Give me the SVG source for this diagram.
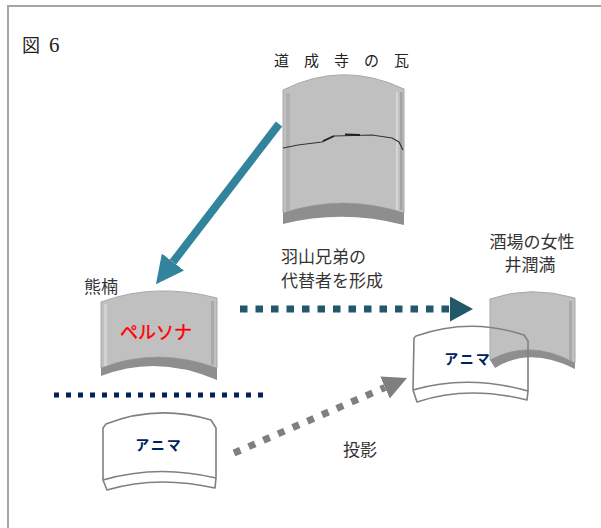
<svg xmlns="http://www.w3.org/2000/svg" width="601" height="528" viewBox="0 0 601 528">
  <style>
    .lbl { font-family: "Noto Sans CJK JP", "Liberation Sans", sans-serif; font-size: 17px; fill: #333333; }
    .min { font-family: "Liberation Serif", "Noto Sans CJK JP", serif; fill: #222222; }
    .body { fill: #c0c0c0; stroke: #a8a8a8; stroke-width: 1; }
    .band { fill: #8e8e8e; }
    .outline { fill: none; stroke: #808080; stroke-width: 1.6; stroke-linejoin: round; }
    .anima { font-family: "Noto Sans CJK JP", sans-serif; font-size: 14px; font-weight: bold; fill: #002060; letter-spacing: 2px; }
  </style>
  <defs>
    <marker id="headTeal" markerUnits="userSpaceOnUse" viewBox="0 0 28 28" markerWidth="28" markerHeight="28" refX="0" refY="14" orient="auto">
      <path d="M0,0 L28,14 L0,28 Z" fill="#31849b"/>
    </marker>
    <marker id="headDark" markerUnits="userSpaceOnUse" viewBox="0 0 23 25" markerWidth="23" markerHeight="25" refX="0" refY="12.5" orient="auto">
      <path d="M0,0 L23,12.5 L0,25 Z" fill="#215968"/>
    </marker>
    <marker id="headGray" markerUnits="userSpaceOnUse" viewBox="0 0 24 24" markerWidth="24" markerHeight="24" refX="0" refY="12" orient="auto">
      <path d="M0,0 L24,12 L0,24 Z" fill="#7f7f7f"/>
    </marker>
  </defs>

  <!-- frame -->
  <path d="M8,528 L8,6 L601,6" fill="none" stroke="#a6a6a6" stroke-width="2"/>
  <text class="min" x="22" y="52" font-size="18">図</text>
  <text class="min" x="49" y="52" font-size="21">6</text>

  <!-- roof tile of Dojo-ji -->
  <g id="kawara">
    <text class="min" x="274" y="66" font-size="15" letter-spacing="15">道成寺の瓦</text>
    <path class="body" d="M283,90 Q343,60 404,89 L404,213 Q343,193 283,213 Z"/>
    <rect x="286" y="93" width="4" height="118" fill="#b0b0b0"/>
    <rect x="396" y="92" width="2" height="118" fill="#d6d6d6"/>
    <rect x="400" y="92" width="2.5" height="118" fill="#a4a4a4"/>
    <path class="band" d="M283,213 Q343,193 404,213 L404,225 Q343,209 283,224 Z"/>
    <path d="M283,148 L298,145 L322,142 L334,136 L372,135 L392,138 L399,142 L403,150" fill="none" stroke="#333333" stroke-width="1.2"/>
    <path d="M323,141 L334,136 M345,134.5 L360,135" fill="none" stroke="#222222" stroke-width="1.8"/>
  </g>

  <!-- Kumagusu / persona -->
  <g id="kumagusu">
    <text class="lbl" x="84" y="293">熊楠</text>
    <path class="body" d="M101,302 Q155,282 217,298 L217,368 Q157,346 101,368 Z"/>
    <rect x="104" y="304" width="3" height="62" fill="#d2d2d2"/>
    <rect x="211" y="301" width="3" height="64" fill="#a9a9a9"/>
    <path class="band" d="M101,368 Q157,346 217,368 L217,380 Q157,354 101,376 Z"/>
    <text x="156" y="339" text-anchor="middle" font-family="Noto Sans CJK JP, sans-serif" font-size="18" fill="#ff0000" stroke="#ff0000" stroke-width="0.4">ペルソナ</text>
  </g>

  <!-- woman at the tavern -->
  <g id="josei">
    <text class="lbl" x="532" y="248" text-anchor="middle" font-size="18">酒場の女性</text>
    <text class="lbl" x="530" y="271" text-anchor="middle" font-size="18">井潤満</text>
    <path class="body" d="M490,299 Q530,285 575,298 L575,363 Q530,338 490,360 Z"/>
    <rect x="569" y="301" width="3" height="60" fill="#a9a9a9"/>
    <path class="band" d="M490,360 Q530,338 575,363 L575,369 Q530,346 495,368 Z"/>
  </g>

  <!-- anima projected onto the woman -->
  <g id="anima-right">
    <path class="outline" d="M416,336 L414,338 L413,390 L417,402 Q467,385 527,400 L528,391 L528,341 L524,335 Q470,317 416,336 Z M413,390 Q467,374 528,391"/>
    <text class="anima" x="468" y="364" text-anchor="middle">アニマ</text>
  </g>

  <!-- Kumagusu's own anima -->
  <g id="anima-left">
    <path class="outline" d="M106,424 L103,428 L103,480 L107,490 Q157,475 215,488 L216,478 L216,428 L211,420 Q157,404 106,424 Z M103,480 Q157,464 216,478"/>
    <text class="anima" x="159" y="450" text-anchor="middle">アニマ</text>
  </g>

  <!-- connectors -->
  <g id="connectors">
    <line x1="279" y1="124" x2="173" y2="262" stroke="#31849b" stroke-width="8" marker-end="url(#headTeal)"/>
    <line x1="240" y1="309" x2="450" y2="309" stroke="#215968" stroke-width="7" stroke-dasharray="7.5 8" marker-end="url(#headDark)"/>
    <line x1="54" y1="395" x2="263" y2="395" stroke="#002060" stroke-width="5" stroke-dasharray="5 7"/>
    <line x1="234" y1="453" x2="385" y2="387.5" stroke="#7f7f7f" stroke-width="7" stroke-dasharray="7 9" marker-end="url(#headGray)"/>
  </g>

  <text class="lbl" x="281" y="263">羽山兄弟の</text>
  <text class="lbl" x="281" y="287">代替者を形成</text>
  <text class="lbl" x="343" y="456">投影</text>
</svg>
